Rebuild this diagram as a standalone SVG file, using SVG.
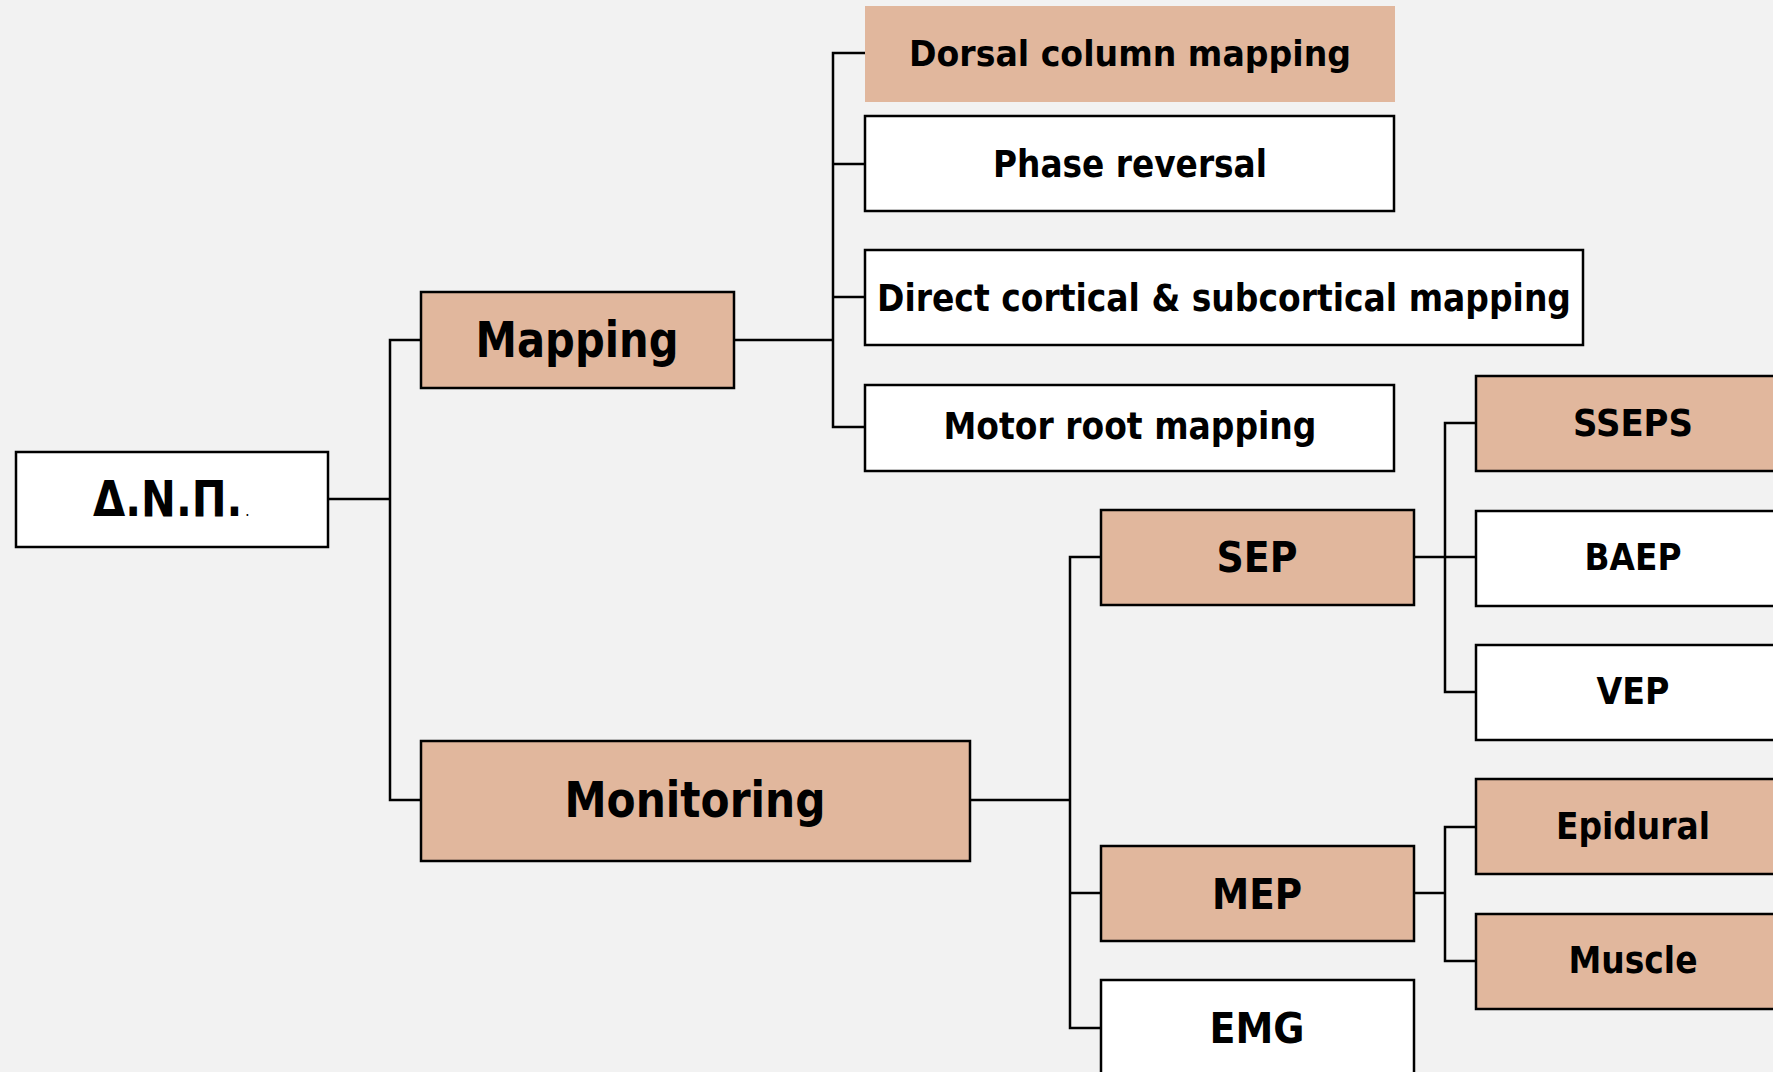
<svg xmlns="http://www.w3.org/2000/svg" width="1773" height="1072" viewBox="0 0 1773 1072">
<style>
.bx{stroke:#000;stroke-width:2.5}
.tan{fill:#E1B79D}
.wh{fill:#FFFFFF}
.t{font-family:"DejaVu Sans","Liberation Sans",sans-serif;font-weight:bold;fill:#000;text-anchor:middle}
.c{fill:none;stroke:#000;stroke-width:2.5}
</style>
<rect width="1773" height="1072" fill="#F2F2F2"/>
<g id="connectors">
<polyline class="c" points="328,499 390,499"/>
<polyline class="c" points="421,340 390,340 390,800 421,800"/>
<polyline class="c" points="734,340 833,340"/>
<polyline class="c" points="865,53 833,53 833,427 865,427"/>
<polyline class="c" points="833,164 865,164"/>
<polyline class="c" points="833,297 865,297"/>
<polyline class="c" points="970,800 1070,800"/>
<polyline class="c" points="1101,557 1070,557 1070,1028 1101,1028"/>
<polyline class="c" points="1070,893 1101,893"/>
<polyline class="c" points="1414,557 1476,557"/>
<polyline class="c" points="1476,423 1445,423 1445,692 1476,692"/>
<polyline class="c" points="1414,893 1445,893"/>
<polyline class="c" points="1476,827 1445,827 1445,961 1476,961"/>
</g>
<g id="dnp"><rect class="bx wh" x="16" y="452" width="312" height="95"/><text class="t" style="text-anchor:start" transform="translate(93,516) scale(0.85,1)" font-size="49">Δ.Ν.Π.<tspan font-size="10" dx="4">.</tspan></text></g>
<g id="mapping"><rect class="bx tan" x="421" y="292" width="313" height="96"/><text class="t" x="577" y="357" font-size="50" textLength="203" lengthAdjust="spacingAndGlyphs">Mapping</text></g>
<g id="monitoring"><rect class="bx tan" x="421" y="741" width="549" height="120"/><text class="t" x="695" y="817" font-size="49" textLength="261" lengthAdjust="spacingAndGlyphs">Monitoring</text></g>
<g id="dorsal"><rect class="tan" x="865" y="6" width="530" height="96"/><text class="t" x="1130" y="66" font-size="36" textLength="442" lengthAdjust="spacingAndGlyphs">Dorsal column mapping</text></g>
<g id="phase"><rect class="bx wh" x="865" y="116" width="529" height="95"/><text class="t" x="1130" y="177" font-size="37" textLength="274" lengthAdjust="spacingAndGlyphs">Phase reversal</text></g>
<g id="direct"><rect class="bx wh" x="865" y="250" width="718" height="95"/><text class="t" x="1224" y="311" font-size="37" textLength="694" lengthAdjust="spacingAndGlyphs">Direct cortical &amp; subcortical mapping</text></g>
<g id="motorroot"><rect class="bx wh" x="865" y="385" width="529" height="86"/><text class="t" x="1130" y="439" font-size="37" textLength="373" lengthAdjust="spacingAndGlyphs">Motor root mapping</text></g>
<g id="sep"><rect class="bx tan" x="1101" y="510" width="313" height="95"/><text class="t" x="1257" y="572" font-size="43" textLength="81" lengthAdjust="spacingAndGlyphs">SEP</text></g>
<g id="mep"><rect class="bx tan" x="1101" y="846" width="313" height="95"/><text class="t" x="1257" y="909" font-size="43" textLength="90" lengthAdjust="spacingAndGlyphs">MEP</text></g>
<g id="emg"><rect class="bx wh" x="1101" y="980" width="313" height="110"/><text class="t" x="1257" y="1043" font-size="43" textLength="95" lengthAdjust="spacingAndGlyphs">EMG</text></g>
<g id="sseps"><rect class="bx tan" x="1476" y="376" width="330" height="95"/><text class="t" x="1633" y="436" font-size="38" textLength="120" lengthAdjust="spacingAndGlyphs">SSEPS</text></g>
<g id="baep"><rect class="bx wh" x="1476" y="511" width="330" height="95"/><text class="t" x="1633" y="570" font-size="38" textLength="97" lengthAdjust="spacingAndGlyphs">BAEP</text></g>
<g id="vep"><rect class="bx wh" x="1476" y="645" width="330" height="95"/><text class="t" x="1633" y="704" font-size="38" textLength="73" lengthAdjust="spacingAndGlyphs">VEP</text></g>
<g id="epidural"><rect class="bx tan" x="1476" y="779" width="330" height="95"/><text class="t" x="1633" y="839" font-size="38" textLength="154" lengthAdjust="spacingAndGlyphs">Epidural</text></g>
<g id="muscle"><rect class="bx tan" x="1476" y="914" width="330" height="95"/><text class="t" x="1633" y="973" font-size="38" textLength="129" lengthAdjust="spacingAndGlyphs">Muscle</text></g>
</svg>
